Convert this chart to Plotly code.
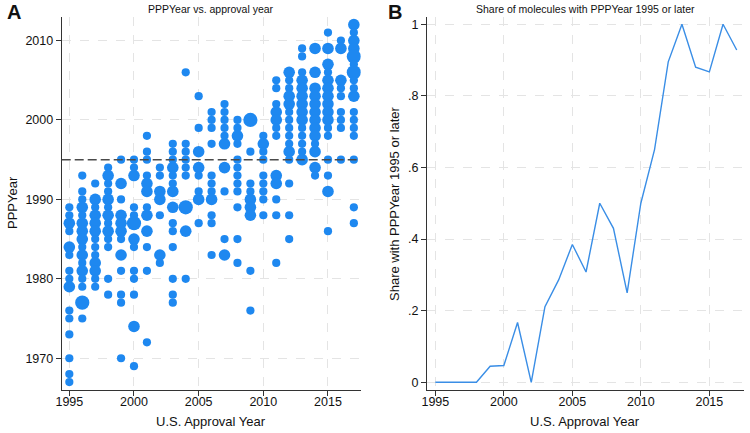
import plotly.graph_objects as go
import math

# ---- Panel A data: (approval year, PPPYear, number of molecules) ----
approval = (
    [1995] * 15 + [1996] * 16 + [1997] * 13 + [1998] * 13 + [1999] * 12 +
    [2000] * 13 + [2001] * 12 + [2002] * 7 + [2003] * 14 + [2004] * 9 +
    [2005] * 8 + [2006] * 11 + [2007] * 10 + [2008] * 12 + [2009] * 9 +
    [2010] * 9 + [2011] * 12 + [2012] * 15 + [2013] * 14 + [2014] * 13 +
    [2015] * 16 + [2016] * 9 + [2017] * 17
)
ppp_year = [
    1989, 1988, 1987, 1986, 1984, 1983, 1981, 1980, 1979, 1976, 1975, 1973, 1970, 1968, 1967,
    1993, 1991, 1990, 1989, 1988, 1987, 1986, 1985, 1984, 1983, 1982, 1981, 1980, 1979, 1977, 1975,
    1992, 1990, 1989, 1988, 1987, 1986, 1985, 1984, 1983, 1982, 1981, 1980, 1979,
    1994, 1993, 1992, 1991, 1990, 1989, 1988, 1987, 1986, 1985, 1984, 1980, 1978,
    1995, 1992, 1990, 1988, 1987, 1986, 1985, 1983, 1981, 1978, 1977, 1970,
    1995, 1994, 1993, 1989, 1988, 1987, 1985, 1984, 1981, 1980, 1978, 1974, 1969,
    1998, 1996, 1995, 1993, 1992, 1991, 1989, 1988, 1986, 1984, 1981, 1972,
    1994, 1993, 1991, 1990, 1988, 1983, 1982,
    1997, 1996, 1995, 1994, 1993, 1992, 1991, 1989, 1987, 1986, 1984, 1980, 1978, 1977,
    2006, 1997, 1996, 1995, 1994, 1993, 1989, 1986, 1980,
    2003, 1999, 1996, 1994, 1993, 1991, 1990, 1987,
    2001, 2000, 1999, 1997, 1993, 1992, 1991, 1990, 1988, 1987, 1983,
    2002, 2001, 2000, 1999, 1998, 1997, 1994, 1991, 1985, 1983,
    2000, 1999, 1998, 1997, 1995, 1994, 1993, 1992, 1991, 1989, 1985, 1982,
    2000, 1996, 1992, 1991, 1990, 1989, 1988, 1981, 1976,
    1998, 1997, 1996, 1995, 1993, 1992, 1991, 1990, 1988,
    2005, 2004, 2002, 2001, 2000, 1999, 1998, 1993, 1992, 1990, 1988, 1982,
    2006, 2005, 2004, 2003, 2002, 2001, 2000, 1999, 1998, 1997, 1996, 1995, 1992, 1988, 1985,
    2009, 2008, 2006, 2005, 2004, 2003, 2002, 2001, 2000, 1999, 1998, 1997, 1996, 1995,
    2009, 2006, 2004, 2003, 2002, 2001, 2000, 1999, 1998, 1997, 1996, 1994, 1993,
    2011, 2009, 2007, 2006, 2005, 2004, 2003, 2002, 2001, 2000, 1999, 1998, 1995, 1993, 1991, 1986,
    2010, 2009, 2005, 2004, 2003, 2001, 2000, 1999, 1995,
    2012, 2011, 2010, 2009, 2008, 2007, 2006, 2005, 2004, 2003, 2001, 2000, 1999, 1998, 1995, 1989, 1987,
]
n_molecules = [
    1, 1, 2, 1, 2, 1, 1, 1, 2, 1, 1, 1, 1, 1, 1,
    1, 1, 1, 2, 1, 2, 2, 2, 1, 2, 1, 2, 1, 1, 3, 1,
    1, 2, 1, 2, 2, 2, 1, 1, 1, 2, 2, 1, 1,
    1, 2, 1, 1, 2, 1, 2, 1, 2, 1, 1, 1, 1,
    1, 2, 1, 2, 2, 2, 1, 2, 1, 1, 1, 1,
    1, 1, 2, 1, 1, 3, 2, 1, 1, 1, 1, 2, 1,
    1, 1, 1, 1, 2, 2, 1, 2, 2, 1, 1, 1,
    1, 1, 2, 2, 1, 2, 1,
    1, 1, 1, 2, 1, 1, 2, 2, 1, 1, 1, 1, 1, 1,
    1, 1, 1, 1, 1, 1, 3, 2, 1,
    1, 1, 2, 2, 1, 1, 2, 1,
    1, 1, 1, 1, 1, 1, 1, 2, 1, 1, 1,
    1, 1, 1, 1, 1, 2, 2, 1, 1, 2,
    1, 1, 2, 1, 1, 1, 1, 1, 1, 1, 1, 1,
    3, 1, 1, 1, 2, 2, 2, 1, 1,
    1, 2, 1, 1, 1, 1, 1, 1, 1,
    1, 1, 1, 2, 2, 1, 1, 2, 2, 1, 1, 1,
    2, 1, 1, 2, 2, 1, 1, 1, 1, 1, 2, 1, 1, 1, 1,
    1, 1, 1, 2, 2, 2, 2, 2, 2, 1, 1, 1, 1, 2,
    2, 2, 2, 2, 2, 2, 2, 2, 2, 1, 2, 2, 1,
    1, 2, 2, 1, 2, 2, 2, 2, 2, 2, 1, 1, 1, 1, 2, 1,
    1, 2, 2, 1, 1, 1, 1, 1, 1,
    2, 1, 2, 2, 3, 1, 3, 1, 1, 2, 1, 1, 1, 1, 1, 1, 1,
]
cutoff_year = 1995

# ---- Panel B data ----
years_b = list(range(1995, 2018))
share_b = [0, 0, 0, 0, 0.045, 0.047, 0.167, 0, 0.211, 0.286, 0.385, 0.308,
           0.5, 0.43, 0.25, 0.5, 0.65, 0.895, 1.0, 0.88, 0.867, 1.0, 0.928]

x_ticks = [1995, 2000, 2005, 2010, 2015]
ya_ticks = [1970, 1980, 1990, 2000, 2010]
yb_ticks = [0, 0.2, 0.4, 0.6, 0.8, 1.0]
yb_labels = ["0", ".2", ".4", ".6", ".8", "1"]

BLUE = "#1e88f0"
FONT = "Liberation Sans"
W, H = 750, 433


def px_x(p):
    return p / W


def px_y(p):
    return 1 - p / H


fig = go.Figure()
fig.add_trace(go.Scatter(
    x=approval, y=ppp_year, mode="markers",
    marker=dict(color=BLUE, opacity=1, size=[8.2 * math.sqrt(n) for n in n_molecules],
                line=dict(width=0)),
    xaxis="x", yaxis="y", showlegend=False, hoverinfo="x+y",
))
fig.add_trace(go.Scatter(
    x=years_b, y=share_b, mode="lines", line=dict(color="#3a8ee6", width=1.4),
    xaxis="x2", yaxis="y2", showlegend=False,
))

axis_common = dict(
    showline=True, linecolor="#333333", linewidth=1,
    ticks="outside", ticklen=5, tickcolor="#333333", tickwidth=1,
    showgrid=True, gridcolor="#e4e4e4", griddash="dash", gridwidth=1,
    zeroline=False, tickfont=dict(family=FONT, size=12.5, color="#111111"),
    mirror=False, automargin=False,
)
x_extra = dict(ticklabelstandoff=-5)

fig.update_layout(
    template="none",
    width=W, height=H, margin=dict(l=0, r=0, t=0, b=0, pad=0),
    plot_bgcolor="white", paper_bgcolor="white",
    font=dict(family=FONT, color="#111111"),
    xaxis=dict(axis_common, **x_extra, domain=[px_x(61.7), px_x(360.7)], range=[1994.41, 2017.53],
               tickvals=x_ticks, anchor="y"),
    yaxis=dict(axis_common, domain=[px_y(390), px_y(16.7)], range=[1966.0, 2013.0],
               tickvals=ya_ticks, anchor="x"),
    xaxis2=dict(axis_common, **x_extra, domain=[px_x(427), px_x(744)], range=[1994.39, 2017.53],
                tickvals=x_ticks, anchor="y2"),
    yaxis2=dict(axis_common, domain=[px_y(390), px_y(16.7)], range=[-0.0215, 1.021],
                tickvals=yb_ticks, ticktext=yb_labels, anchor="x2"),
    shapes=[dict(type="line", xref="x domain", yref="y", x0=0, x1=1,
                 y0=cutoff_year, y1=cutoff_year,
                 line=dict(color="#4a4a4a", width=1.5, dash="9px,4px"))],
)

ann = []
ann.append(dict(text="PPPYear vs. approval year", x=px_x(211), y=px_y(9.5), xref="paper", yref="paper",
                showarrow=False, font=dict(size=10.5, family=FONT), xanchor="center", yanchor="middle"))
ann.append(dict(text="Share of molecules with PPPYear 1995 or later", x=px_x(585), y=px_y(9.5),
                xref="paper", yref="paper", showarrow=False, font=dict(size=10.5, family=FONT),
                xanchor="center", yanchor="middle"))
ann.append(dict(text="<b>A</b>", x=px_x(5), y=px_y(12), xref="paper", yref="paper", showarrow=False,
                font=dict(size=20, family=FONT), xanchor="left", yanchor="middle"))
ann.append(dict(text="<b>B</b>", x=px_x(386), y=px_y(12), xref="paper", yref="paper", showarrow=False,
                font=dict(size=20, family=FONT), xanchor="left", yanchor="middle"))
ann.append(dict(text="U.S. Approval Year", x=px_x(211), y=px_y(421), xref="paper", yref="paper",
                showarrow=False, font=dict(size=13, family=FONT), xanchor="center", yanchor="middle"))
ann.append(dict(text="U.S. Approval Year", x=px_x(585), y=px_y(421), xref="paper", yref="paper",
                showarrow=False, font=dict(size=13, family=FONT), xanchor="center", yanchor="middle"))
ann.append(dict(text="PPPYear", x=px_x(13), y=px_y(203), xref="paper", yref="paper", textangle=-90,
                showarrow=False, font=dict(size=13, family=FONT), xanchor="center", yanchor="middle"))
ann.append(dict(text="Share with PPPYear 1995 or later", x=px_x(395), y=px_y(203), xref="paper",
                yref="paper", textangle=-90, showarrow=False, font=dict(size=13, family=FONT),
                xanchor="center", yanchor="middle"))
fig.update_layout(annotations=ann)

fig.write_html("out.html")
